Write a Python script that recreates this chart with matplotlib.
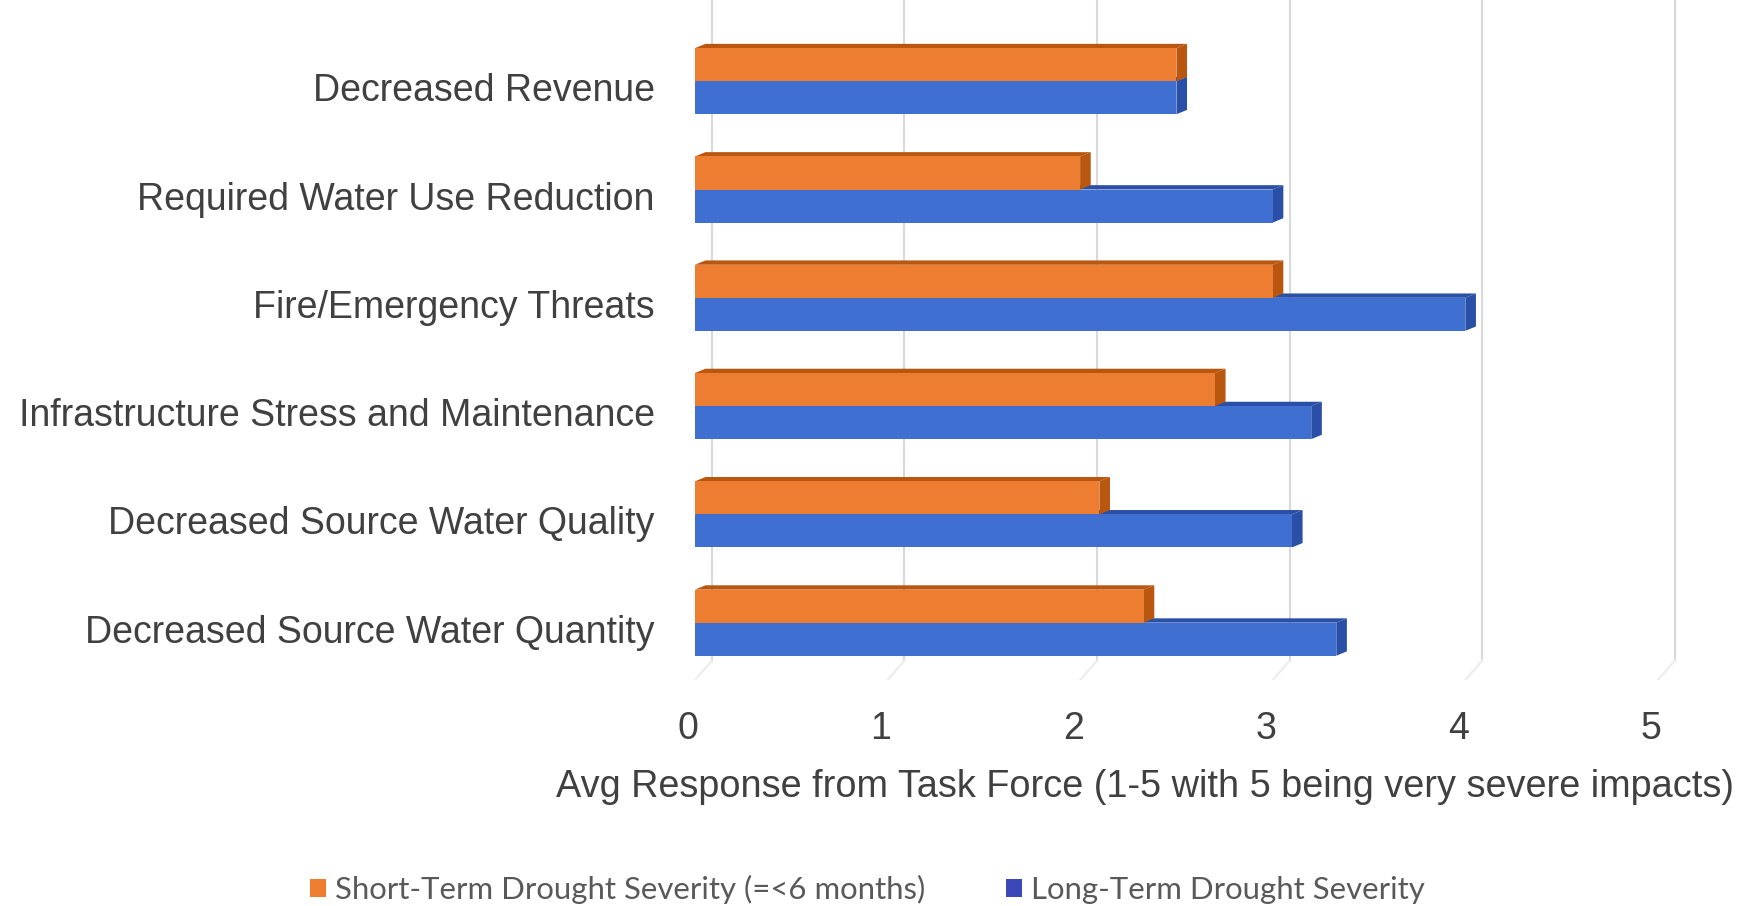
import numpy as np
import matplotlib
matplotlib.use('Agg')
import matplotlib.pyplot as plt
from matplotlib.patches import Polygon, Patch
from matplotlib.transforms import ScaledTranslation

# survey averages per impact category
categories = ['Decreased Revenue', 'Required Water Use Reduction',
              'Fire/Emergency Threats', 'Infrastructure Stress and Maintenance',
              'Decreased Source Water Quality', 'Decreased Source Water Quantity']
short_term = [2.5, 2.0, 3.0, 2.7, 2.1, 2.33]
long_term = [2.5, 3.0, 4.0, 3.2, 3.1, 3.33]
x_ticks = [0, 1, 2, 3, 4, 5]
series_names = ['Short-Term Drought Severity (=<6 months)', 'Long-Term Drought Severity']

ORANGE, ORANGE_DARK = '#ED7D31', '#B9560F'
BLUE, BLUE_DARK = '#3F6FD0', '#2A4FA6'
TEXT = '#404040'
GRID = '#d9d9d9'

plt.rcParams['font.family'] = ['Liberation Sans', 'DejaVu Sans']

fig = plt.figure(figsize=(17.46, 9.06), dpi=100)
ax = fig.add_axes([0.398, 0.2494, 0.5957, 0.7506])

bar_h = 0.305
depth_x, depth_y = 0.055, 0.04   # fake 3d depth of the bars
wall_off = 0.088                 # back wall shift of the gridlines
y_top, y_floor, y_front = -0.75, 5.35, 5.53

# gridlines on the back wall, bending onto the floor
for k in x_ticks:
    ax.plot([k + wall_off, k + wall_off], [y_top, y_floor], color=GRID, lw=1.5, zorder=1)
    ax.plot([k + wall_off, k], [y_floor, y_front], color='#ececec', lw=1.5, zorder=1)

y = np.arange(len(categories))


def bar3d(yc, v, color, dark, z):
    top, bottom = yc - bar_h / 2, yc + bar_h / 2
    ax.barh(yc, v, height=bar_h, color=color, zorder=z, linewidth=0)
    face_top = [(0, top), (depth_x, top - depth_y), (v + depth_x, top - depth_y), (v, top)]
    face_end = [(v, top), (v + depth_x, top - depth_y), (v + depth_x, bottom - depth_y), (v, bottom)]
    ax.add_patch(Polygon(face_top, closed=True, color=dark, lw=0, zorder=z - 0.1))
    ax.add_patch(Polygon(face_end, closed=True, color=dark, lw=0, zorder=z - 0.1))


for yc, s, l in zip(y, short_term, long_term):
    bar3d(yc + bar_h / 2, l, BLUE, BLUE_DARK, 3)
    bar3d(yc - bar_h / 2, s, ORANGE, ORANGE_DARK, 5)

ax.set_xlim(0, 5.4)
ax.set_ylim(y_front, y_top)
ax.set_yticks(y)
ax.set_yticklabels(categories, fontsize=27, color=TEXT)
ax.set_xticks(x_ticks)
ax.set_xticklabels([str(t) for t in x_ticks], fontsize=27, color=TEXT)
ax.tick_params(axis='y', length=0, pad=29)
ax.tick_params(axis='x', length=0, pad=22)
for lbl in ax.get_xticklabels():
    lbl.set_transform(lbl.get_transform() + ScaledTranslation(-0.07, 0, fig.dpi_scale_trans))
for lbl in ax.get_yticklabels():
    lbl.set_transform(lbl.get_transform() + ScaledTranslation(0, -0.06, fig.dpi_scale_trans))
for sp in ax.spines.values():
    sp.set_visible(False)

fig.text(0.656, 0.1318, 'Avg Response from Task Force (1-5 with 5 being very severe impacts)',
         fontsize=27.3, color=TEXT, ha='center', va='center')

handles = [Patch(facecolor=ORANGE), Patch(facecolor='#3C48B8')]
fig.legend(handles, series_names, loc='center', bbox_to_anchor=(0.497, 0.018), ncol=2,
           frameon=False, handlelength=0.5, handleheight=0.5, handletextpad=0.3,
           columnspacing=2.6, prop={'family': 'Lato', 'size': 22.4}, labelcolor='#595959')

fig.savefig('out.png', dpi=100)
